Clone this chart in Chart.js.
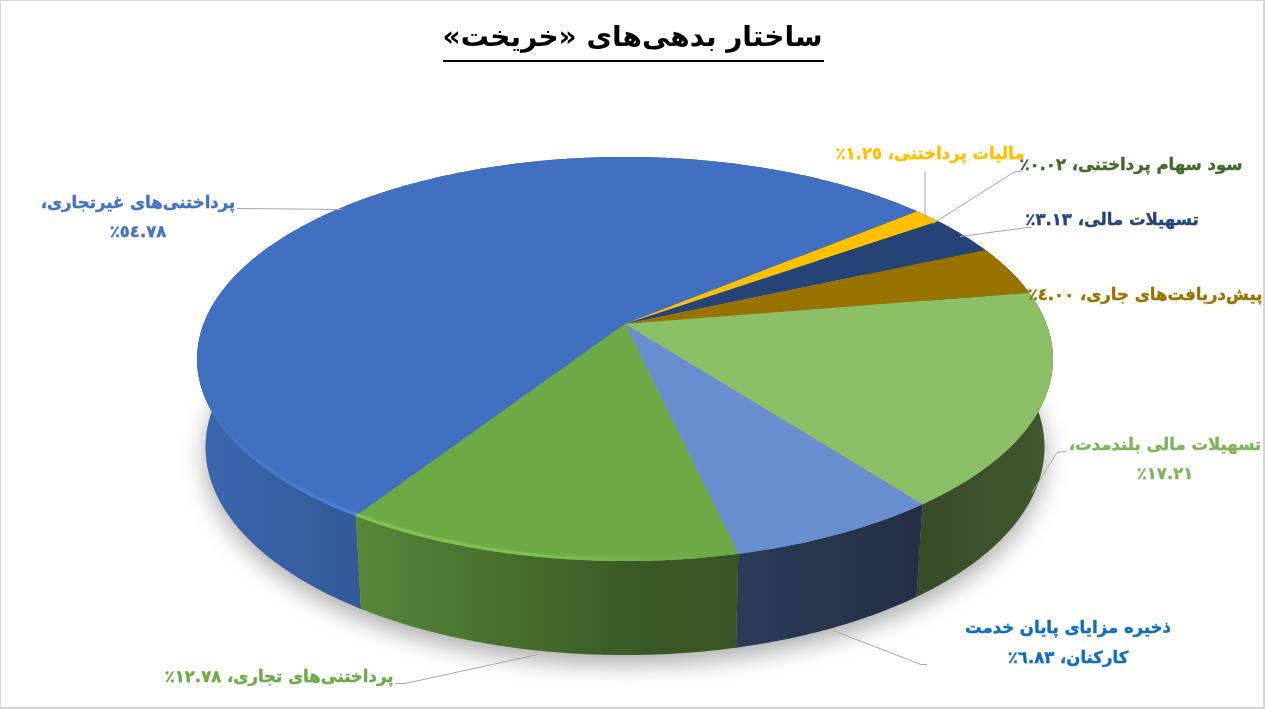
<!DOCTYPE html>
<html lang="fa">
<head>
<meta charset="utf-8">
<title>ساختار بدهی‌های خریخت</title>
<script src="https://cdn.jsdelivr.net/npm/chart.js@4"></script>
<style>
  html, body { margin: 0; padding: 0; background: #fff; }
  canvas { display: block; }
</style>
</head>
<body>
<canvas id="myChart" width="1265" height="709" dir="rtl"></canvas>
<script>
// data
const categories = [
  "پرداختنی‌های غیرتجاری",
  "مالیات پرداختنی",
  "سود سهام پرداختنی",
  "تسهیلات مالی",
  "پیش‌دریافت‌های جاری",
  "تسهیلات مالی بلندمدت",
  "ذخیره مزایای پایان خدمت کارکنان",
  "پرداختنی‌های تجاری",
];
const values = [54.78, 1.25, 0.02, 3.13, 4.0, 17.21, 6.83, 12.78];
const sliceColors = ["#4070BF", "#FFC000", "#43682B", "#264478", "#997300", "#8BBF66", "#698ED0", "#6DAA46"];
const labelColors = ["#4472C4", "#FFC000", "#43682B", "#264478", "#997300", "#7DB55A", "#0F6FBC", "#6DAA46"];
const wallTint = [1, 1, 1, 1, 1, 1, 0.84, 1];
const chartTitle = "ساختار بدهی‌های «خریخت»";

// label layout: x,y of first line, optional broken name for two lines
const labelBox = [
  { x: 138, y: 204, line1: "پرداختنی‌های غیرتجاری،", line2: "VAL", y2: 233 },
  { x: 930, y: 155 },
  { x: 1131, y: 166 },
  { x: 1112, y: 221 },
  { x: 1145, y: 296 },
  { x: 1165, y: 446, line1: "تسهیلات مالی بلندمدت،", line2: "VAL", y2: 475 },
  { x: 1068, y: 629, line1: "ذخیره مزایای پایان خدمت", line2: "کارکنان، VAL", y2: 659 },
  { x: 279, y: 678 },
];
const leaders = [
  [[342, 209], [237, 208]],
  [[925, 218], [925, 171]],
  [[933, 223], [1015, 171], [1021, 171]],
  [[960, 236], [1027, 227], [1032, 227]],
  null,
  [[1032, 492], [1057, 452], [1066, 451]],
  [[833, 630], [921, 664], [927, 664]],
  [[538, 654], [405, 683], [395, 683]],
];

// arabic digits, the percent sign follows and lands on the left
function faNum(v) {
  const s = v.toFixed(2).replace(/\d/g, (d) => "٠١٢٣٤٥٦٧٨٩"[d]);
  return s + "٪";
}

// perspective of the pie top: unit circle -> screen
const cx = 625, cy = 324, persp = 0.1733, ky = 139.8, kx = 421.5;
function top3d(a) {
  const u = Math.cos(a), v = Math.sin(a);
  const w = 1 - persp * v;
  return { x: cx + (kx * u) / w, y: (ky * v + cy) / w, v: v };
}
function bottom3d(a) {
  const p = top3d(a);
  return { x: cx + (p.x - cx) * 0.98, y: p.y + 87 + 7 * p.v };
}

function shade(hex, k) {
  const n = parseInt(hex.slice(1), 16);
  const r = Math.min(255, Math.round(((n >> 16) & 255) * k));
  const g = Math.min(255, Math.round(((n >> 8) & 255) * k));
  const b = Math.min(255, Math.round((n & 255) * k));
  return `rgb(${r},${g},${b})`;
}

// brightness of the side wall going left to right
const wallStops = [[197, 0.92], [355, 0.8], [560, 0.6], [640, 0.53], [740, 0.5], [917, 0.4], [1053, 0.46]];
function wallGradient(ctx, hex, tint) {
  const g = ctx.createLinearGradient(197, 0, 1053, 0);
  wallStops.forEach((s) => g.addColorStop((s[0] - 197) / (1053 - 197), shade(hex, s[1] * tint)));
  return g;
}

function steps(arc) {
  const pts = [];
  const n = Math.max(2, Math.ceil((arc.endAngle - arc.startAngle) / 0.01));
  for (let i = 0; i <= n; i++) pts.push(arc.startAngle + ((arc.endAngle - arc.startAngle) * i) / n);
  return pts;
}

function wallPath(ctx, angles) {
  ctx.beginPath();
  angles.forEach((a, i) => {
    const p = top3d(a);
    if (i == 0) ctx.moveTo(p.x, p.y);
    else ctx.lineTo(p.x, p.y);
  });
  angles.slice().reverse().forEach((a) => {
    const p = bottom3d(a);
    ctx.lineTo(p.x, p.y);
  });
  ctx.closePath();
}

function ringPath(ctx, fn) {
  ctx.beginPath();
  for (let i = 0; i <= 360; i++) {
    const p = fn((i * Math.PI) / 180);
    if (i == 0) ctx.moveTo(p.x, p.y);
    else ctx.lineTo(p.x, p.y);
  }
  ctx.closePath();
}

const pie3d = {
  id: "pie3d",
  beforeDatasetDraw(chart) {
    const ctx = chart.ctx;
    const arcs = chart.getDatasetMeta(0).data;
    const order = arcs.map((a, i) => i).sort((i, j) => {
      return Math.sin((arcs[i].startAngle + arcs[i].endAngle) / 2) - Math.sin((arcs[j].startAngle + arcs[j].endAngle) / 2);
    });

    // soft shadow under the disc
    ctx.save();
    ctx.shadowColor = "rgba(0,0,0,0.34)";
    ctx.shadowBlur = 24;
    ctx.shadowOffsetY = 9;
    ctx.fillStyle = "#999";
    ringPath(ctx, bottom3d);
    ctx.fill();
    ctx.restore();

    // walls
    order.forEach((i) => {
      wallPath(ctx, steps(arcs[i]));
      ctx.fillStyle = wallGradient(ctx, sliceColors[i], wallTint[i]);
      ctx.fill();
    });

    // top faces
    arcs.forEach((arc, i) => {
      ctx.beginPath();
      ctx.moveTo(cx, cy);
      steps(arc).forEach((a) => {
        const p = top3d(a);
        ctx.lineTo(p.x, p.y);
      });
      ctx.closePath();
      ctx.fillStyle = sliceColors[i];
      ctx.fill();
    });

    // bevel highlight along the front left rim, kept inside the top face
    arcs.forEach((arc, i) => {
      const g = ctx.createLinearGradient(197, 0, 700, 0);
      g.addColorStop(0, sliceColors[i]);
      g.addColorStop(0.3, shade(sliceColors[i], 1.24));
      g.addColorStop(0.65, shade(sliceColors[i], 1.22));
      g.addColorStop(1, sliceColors[i]);
      ctx.save();
      ringPath(ctx, top3d);
      ctx.clip();
      ctx.beginPath();
      const front = steps(arc).filter((a) => Math.sin(a) > 0.15 && top3d(a).x < 700);
      front.forEach((a, k) => {
        const p = top3d(a);
        if (k == 0) ctx.moveTo(p.x, p.y - 1.5);
        else ctx.lineTo(p.x, p.y - 1.5);
      });
      ctx.strokeStyle = g;
      ctx.lineWidth = 2.5;
      ctx.filter = "blur(1px)";
      ctx.stroke();
      ctx.restore();
    });
    return false;
  },
  afterDraw(chart) {
    const ctx = chart.ctx;
    ctx.save();

    // frame
    ctx.fillStyle = "#d6d6d6";
    ctx.fillRect(0, 0, 1265, 1);
    ctx.fillRect(0, 0, 1, 708);
    ctx.fillRect(1263, 0, 2, 708);
    ctx.fillRect(0, 707, 1265, 2);

    // title underline
    ctx.fillStyle = "#000";
    ctx.fillRect(443, 60, 381, 2);

    // leader lines
    ctx.strokeStyle = "#a6a6a6";
    ctx.lineWidth = 1;
    leaders.forEach((l) => {
      if (!l) return;
      ctx.beginPath();
      l.forEach((p, k) => {
        if (k == 0) ctx.moveTo(p[0], p[1] + 0.5);
        else ctx.lineTo(p[0], p[1] + 0.5);
      });
      ctx.stroke();
    });

    // labels
    ctx.direction = "rtl";
    ctx.textAlign = "center";
    ctx.textBaseline = "middle";
    ctx.font = "bold 16.5px 'DejaVu Sans'";
    ctx.lineWidth = 0.4;
    const put = (text, x, y) => {
      ctx.fillText(text, x, y);
      ctx.strokeText(text, x, y);
    };
    labelBox.forEach((b, i) => {
      ctx.fillStyle = labelColors[i];
      ctx.strokeStyle = labelColors[i];
      const num = faNum(values[i]);
      if (b.line1) {
        put(b.line1, b.x, b.y);
        put(b.line2.replace("VAL", num), b.x, b.y2);
      } else {
        put(categories[i] + "، " + num, b.x, b.y);
      }
    });
    ctx.restore();
  },
};

const config = {
  type: "doughnut",
  data: {
    labels: categories,
    datasets: [{ data: values, backgroundColor: sliceColors, borderWidth: 0 }],
  },
  options: {
    responsive: false,
    animation: false,
    cutout: 0,
    rotation: 213.1,
    plugins: {
      legend: { display: false },
      tooltip: { enabled: false },
      title: {
        display: true,
        text: chartTitle,
        color: "#000",
        font: { family: "'DejaVu Sans'", size: 28, weight: "bold" },
        padding: { top: 22, bottom: 6 },
      },
    },
  },
  plugins: [pie3d],
};

var myChart = new Chart(document.getElementById("myChart"), config);
</script>
</body>
</html>
